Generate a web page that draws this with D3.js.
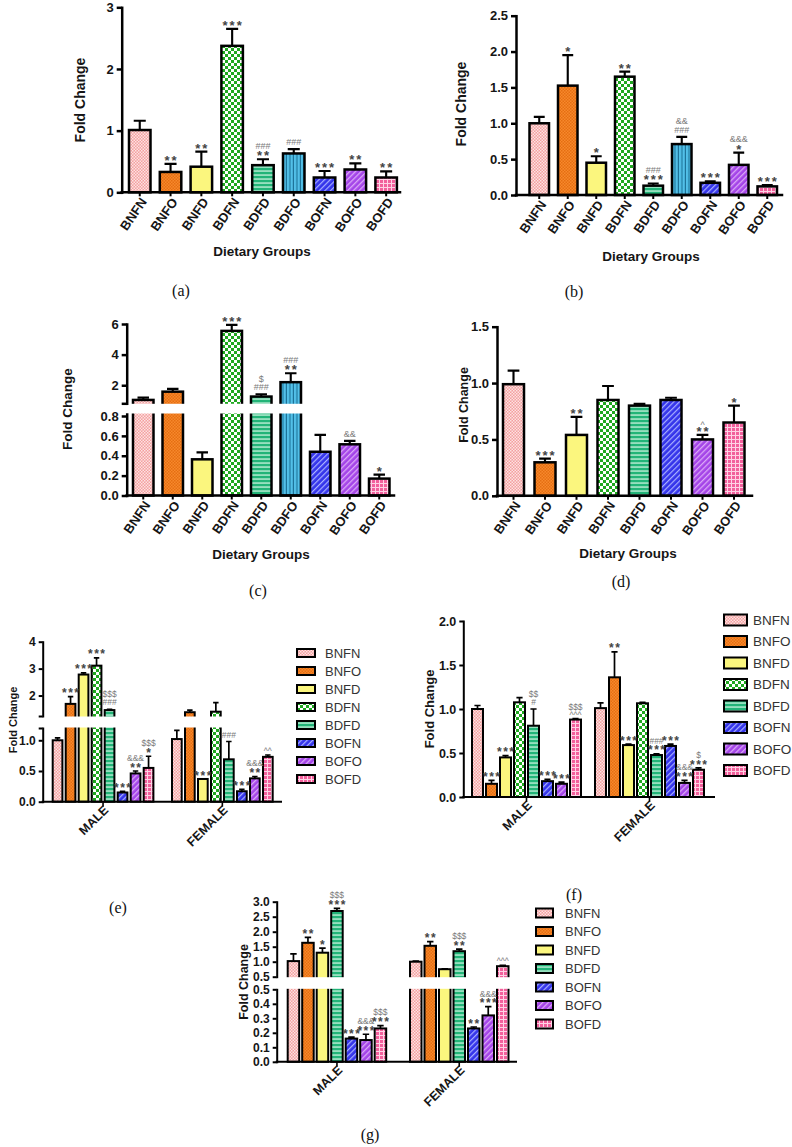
<!DOCTYPE html>
<html><head><meta charset="utf-8">
<script src="https://cdnjs.cloudflare.com/ajax/libs/d3/7.8.5/d3.min.js"></script>
<style>body{margin:0;background:#fff}svg{display:block}</style>
</head><body><svg id="c" width="792" height="1147"></svg>
<script>
// ---------------- DATA ----------------
const catsAC = ["BNFN","BNFO","BNFD","BDFN","BDFD","BDFO","BOFN","BOFO","BOFD"];
const catsD  = ["BNFN","BNFO","BNFD","BDFN","BDFD","BOFN","BOFO","BOFD"];
const seriesEF = ["BNFN","BNFO","BNFD","BDFN","BDFD","BOFN","BOFO","BOFD"];
const seriesG  = ["BNFN","BNFO","BNFD","BDFD","BOFN","BOFO","BOFD"];
const sexes = ["MALE","FEMALE"];

const aMean = [1.01,0.33,0.415,2.375,0.44,0.63,0.24,0.37,0.24];
const aSem  = [0.15,0.13,0.245,0.275,0.095,0.07,0.105,0.10,0.10];
const aSig  = ["","**","**","***","###|**","###","***","**","**"];

const bMean = [1.0,1.525,0.45,1.65,0.13,0.71,0.17,0.42,0.12];
const bSem  = [0.09,0.425,0.09,0.07,0.03,0.10,0.02,0.17,0.02];
const bSig  = ["","*","*","**","###|***","&&|###","***","&&&|*","***"];

const cMean = [1.04,1.58,0.364,5.55,1.26,2.2,0.44,0.515,0.17];
const cSem  = [0.15,0.18,0.07,0.39,0.15,0.58,0.17,0.035,0.04];
const cSig  = ["","","","***","$|###","###|**","","&&","*"];

const dMean = [0.99,0.297,0.54,0.85,0.80,0.85,0.50,0.65];
const dSem  = [0.12,0.033,0.16,0.124,0.015,0.02,0.04,0.15];
const dSig  = ["","***","**","","","","^|**","*"];

const eMale      = [1.0,1.69,2.78,3.11,1.46,0.15,0.46,0.55];
const eMaleSem   = [0.04,0.27,0.06,0.29,0.03,0.02,0.04,0.19];
const eMaleSig   = ["","***","***","***","$$$|###","***","&&&|**","$$$|*"];
const eFemale    = [1.02,1.38,0.37,1.40,0.69,0.17,0.38,0.73];
const eFemaleSem = [0.14,0.08,0.0,0.34,0.29,0.03,0.03,0.03];
const eFemaleSig = ["","","***","","###","***","&&&|**","^^"];

const fMale      = [1.0,0.15,0.45,1.076,0.81,0.18,0.15,0.88];
const fMaleSem   = [0.04,0.04,0.02,0.054,0.19,0.02,0.02,0.01];
const fMaleSig   = ["","***","***","","$$|#","***","***","$$$|^^^"];
const fFemale    = [1.01,1.36,0.59,1.065,0.477,0.58,0.16,0.31];
const fFemaleSem = [0.06,0.29,0.01,0.01,0.013,0.02,0.03,0.02];
const fFemaleSig = ["","**","***","","###|***","***","&&&|***","$|***"];

const gMale      = [1.02,1.63,1.30,2.69,0.16,0.15,0.23];
const gMaleSem   = [0.24,0.18,0.15,0.09,0.01,0.04,0.02];
const gMaleSig   = ["","**","*","$$$|***","***","&&&|***","$$$|***"];
const gFemale    = [1.0,1.53,0.75,1.35,0.23,0.32,0.85];
const gFemaleSem = [0.02,0.14,0.01,0.07,0.01,0.06,0.03];
const gFemaleSig = ["","**","","$$$|**","**","&&&|***","^^^"];

const ticksA = [0,1,2,3];
const ticksB = [0,0.5,1.0,1.5,2.0,2.5];
const ticksCLow = [0,0.2,0.4,0.6,0.8], ticksCHigh = [2,4,6];
const ticksD = [0,0.5,1.0,1.5];
const ticksELow = [0,0.5,1.0], ticksEHigh = [2,3,4];
const ticksF = [0,0.5,1.0,1.5,2.0];
const ticksGLow = [0,0.1,0.2,0.3,0.4,0.5], ticksGHigh = [0.5,1.0,1.5,2.0,2.5,3.0];

// ---------------- SETUP ----------------
const FONT = "'Liberation Sans', Arial, sans-serif";
const SERIF = "'Liberation Serif', 'Times New Roman', serif";
const svg = d3.select("#c");
const defs = svg.append("defs");
const f1 = d3.format(".1f"), fd = d3.format("d");

function mk(id, w, h, bg, extra, rot) {
  const p = defs.append("pattern").attr("id", "p" + id).attr("patternUnits", "userSpaceOnUse")
    .attr("width", w).attr("height", h);
  if (rot) p.attr("patternTransform", `rotate(${rot})`);
  p.append("rect").attr("width", w).attr("height", h).attr("fill", bg);
  extra(p);
}
mk("BNFN", 3, 3, "#f4a0a0", p => { p.append("rect").attr("width",1.5).attr("height",1.5).attr("fill","#fde2e2"); p.append("rect").attr("x",1.5).attr("y",1.5).attr("width",1.5).attr("height",1.5).attr("fill","#fde2e2"); });
mk("BNFO", 3, 3, "#f7892b", p => { p.append("rect").attr("width",1.5).attr("height",1.5).attr("fill","#e56e12"); p.append("rect").attr("x",1.5).attr("y",1.5).attr("width",1.5).attr("height",1.5).attr("fill","#e56e12"); });
mk("BNFD", 4, 4, "#fbf67e", p => {});
mk("BDFN", 6, 6, "#1fa81f", p => { p.append("rect").attr("width",3).attr("height",3).attr("fill","#ffffff"); p.append("rect").attr("x",3).attr("y",3).attr("width",3).attr("height",3).attr("fill","#ffffff"); });
mk("BDFD", 4, 4, "#22b478", p => { p.append("rect").attr("y",2.4).attr("width",4).attr("height",1.3).attr("fill","#c6f2dc"); });
mk("BDFO", 3.5, 4, "#52c0e8", p => { p.append("rect").attr("x",2.4).attr("width",1.1).attr("height",4).attr("fill","#1a6f95"); });
mk("BOFN", 4, 4, "#3434ea", p => { p.append("rect").attr("width",1.2).attr("height",4).attr("fill","#a9b0ff"); }, 45);
mk("BOFO", 4, 4, "#a444e8", p => { p.append("rect").attr("width",1.3).attr("height",4).attr("fill","#dba8f7"); }, 45);
mk("BOFD", 4, 4, "#f2609c", p => { p.append("rect").attr("x",3).attr("width",1).attr("height",4).attr("fill","#ffd2e5"); p.append("rect").attr("y",3).attr("width",4).attr("height",1).attr("fill","#ffd2e5"); });

function makeY(spec) {
  if (spec.lower) {
    const lo = d3.scaleLinear().domain(spec.lower.domain).range(spec.lower.range);
    const hi = d3.scaleLinear().domain(spec.upper.domain).range(spec.upper.range);
    const brk = spec.lower.domain[1];
    return { f: v => v <= brk ? lo(v) : hi(Math.max(v, spec.upper.domain[0])),
      segs: [Object.assign({ s: lo }, spec.lower), Object.assign({ s: hi }, spec.upper)],
      gap: [spec.upper.range[0], spec.lower.range[1]] };
  }
  const s = d3.scaleLinear().domain(spec.domain).range(spec.range);
  return { f: v => s(v), segs: [Object.assign({ s }, spec)], gap: null };
}

function bandFor(cats, firstLeft, step, bw) {
  const pi = 1 - bw / step;
  const r0 = firstLeft - step * pi / 2;
  return d3.scaleBand().domain(cats).range([r0, r0 + cats.length * step]).paddingInner(pi).paddingOuter(pi / 2);
}

function sigText(g, cx, errY, sig, P) {
  if (!sig) return;
  const lines = sig.split("|").reverse();
  let cur = errY - 4;
  lines.forEach(t => {
    const ast = t[0] === "*";
    const caret = t[0] === "^";
    const fs = ast ? P.afs : P.sfs;
    let base = ast ? cur + 0.38 * fs : (caret ? cur + 0.35 * fs : cur);
    g.append("text").attr("x", cx + (ast ? P.als / 2 : 0)).attr("y", base).attr("text-anchor", "middle")
      .attr("font-family", FONT).attr("font-weight", ast ? "bold" : "normal").attr("font-size", fs)
      .attr("letter-spacing", ast ? P.als : 0).attr("fill", ast ? "#444" : "#7a7a7a").text(t);
    cur = base - 0.72 * fs - 2;
  });
}

function drawBars(g, items, Y, P) {
  const y0 = Y.f(0);
  g.selectAll(null).data(items).join("rect")
    .attr("x", d => d.x).attr("y", d => Y.f(d.v)).attr("width", d => d.w).attr("height", d => y0 - Y.f(d.v))
    .attr("fill", d => `url(#p${d.s})`).attr("stroke", "#000").attr("stroke-width", P.sw);
  g.selectAll(null).data(items.filter(d => d.e > 0)).join("path")
    .attr("d", d => { const cx = d.x + d.w / 2, cw = d.w * 0.28;
      return `M${cx},${Y.f(d.v)}V${Y.f(d.v + d.e)}M${cx - cw},${Y.f(d.v + d.e)}H${cx + cw}`; })
    .attr("stroke", "#000").attr("stroke-width", P.sw * 0.85).attr("fill", "none");
}

function drawAxes(g, Y, P) {
  if (Y.gap) {
    g.append("rect").attr("x", P.axisX + 2).attr("y", Y.gap[0] + 0.5).attr("width", P.axisEnd - P.axisX + 6)
      .attr("height", Y.gap[1] - Y.gap[0] - 1).attr("fill", "#fff");
  }
  Y.segs.forEach(seg => {
    const ends = seg.ends || [];
    const ax = d3.axisLeft(seg.s).tickValues(seg.ticks.concat(ends))
      .tickFormat(v => ends.includes(v) ? "" : seg.fmt(v)).tickSize(P.tick).tickSizeOuter(0).tickPadding(3);
    const a = g.append("g").attr("transform", `translate(${P.axisX},0)`).call(ax);
    a.attr("font-family", null).attr("font-size", null);
    a.select(".domain").attr("stroke", "#000").attr("stroke-width", P.sw).attr("stroke-linecap", "square");
    a.selectAll(".tick line").attr("stroke", "#000").attr("stroke-width", P.sw);
    a.selectAll(".tick text").attr("font-family", FONT).attr("font-weight", "bold").attr("font-size", P.tfs).attr("fill", "#151515");
  });
  const y0 = Y.f(0);
  g.append("line").attr("x1", P.axisX).attr("x2", P.axisEnd).attr("y1", y0).attr("y2", y0)
    .attr("stroke", "#000").attr("stroke-width", P.sw).attr("stroke-linecap", "square");
  g.append("text").attr("transform", `translate(${P.ylab[0]},${P.ylab[1]}) rotate(-90)`).attr("text-anchor", "middle")
    .attr("font-family", FONT).attr("font-weight", "bold").attr("font-size", P.yfs).attr("fill", "#151515").text("Fold Change");
  g.append("text").attr("x", P.cap[0]).attr("y", P.cap[1]).attr("text-anchor", "middle")
    .attr("font-family", SERIF).attr("font-size", 16).attr("fill", "#111").text(P.cap[2]);
}

function xLabels(g, list, y0, P) {
  list.forEach(([cx, t]) => {
    g.append("line").attr("x1", cx).attr("x2", cx).attr("y1", y0).attr("y2", y0 + P.xtick).attr("stroke", "#000").attr("stroke-width", P.sw * 0.8);
    g.append("text").attr("transform", `translate(${cx + P.xl[0]},${y0 + P.xl[1]}) rotate(${P.rot})`)
      .attr("text-anchor", "end").attr("dy", "0.35em").attr("font-family", FONT).attr("font-weight", "bold")
      .attr("font-size", P.xfs).attr("fill", "#151515").text(t);
  });
}

function simplePanel(cats, mean, sem, sig, P) {
  const g = svg.append("g");
  const x = bandFor(cats, P.firstLeft, P.step, P.bw);
  const Y = makeY(P.y);
  const items = cats.map((c, i) => ({ s: c, x: x(c), w: x.bandwidth(), v: mean[i], e: sem[i], sig: sig[i] }));
  drawBars(g, items, Y, P);
  drawAxes(g, Y, P);
  items.forEach(d => sigText(g, d.x + d.w / 2, Y.f(d.v + d.e), d.sig, P));
  xLabels(g, cats.map(c => [x(c) + x.bandwidth() / 2, c]), Y.f(0), P);
  g.append("text").attr("x", P.xt[0]).attr("y", P.xt[1]).attr("text-anchor", "middle").attr("font-family", FONT)
    .attr("font-weight", "bold").attr("font-size", 13.5).attr("fill", "#151515").text("Dietary Groups");
}

function groupedPanel(series, data, P) {
  const g = svg.append("g");
  const half = P.innerStep * (1 - P.bw / P.innerStep) / 2;
  const inner = bandFor(series, half, P.innerStep, P.bw);
  const outer = d3.scaleBand().domain(sexes).range([P.firstLeft - half, P.firstLeft - half + sexes.length * P.groupStep]);
  const Y = makeY(P.y);
  const items = [];
  sexes.forEach((sx, gi) => series.forEach((s, i) => items.push({ s, x: outer(sx) + inner(s), w: inner.bandwidth(),
    v: data[gi].mean[i], e: data[gi].sem[i], sig: data[gi].sig[i] })));
  drawBars(g, items, Y, P);
  drawAxes(g, Y, P);
  items.forEach(d => sigText(g, d.x + d.w / 2, Y.f(d.v + d.e), d.sig, P));
  xLabels(g, sexes.map(sx => [outer(sx) + series.length * P.innerStep / 2, sx]), Y.f(0), P);
  // legend
  series.forEach((s, i) => {
    const yy = P.leg.y + i * P.leg.dy;
    g.append("rect").attr("x", P.leg.x).attr("y", yy - P.leg.h / 2).attr("width", P.leg.w).attr("height", P.leg.h)
      .attr("fill", `url(#p${s})`).attr("stroke", "#000").attr("stroke-width", 2);
    g.append("text").attr("x", P.leg.tx).attr("y", yy).attr("dy", "0.36em").attr("font-family", FONT)
      .attr("font-size", P.leg.fs).attr("fill", "#333").text(s);
  });
}

const topStyle = { sw: 2.5, tick: 5, tfs: 13, yfs: 14, xfs: 13, rot: -55, xl: [4, 7], xtick: 4, afs: 13, als: 2, sfs: 9 };
const lowStyle = { sw: 2, tick: 4, tfs: 12, yfs: 12.5, xfs: 12.5, rot: -45, xl: [3, 6], xtick: 5, afs: 12, als: 1.5, sfs: 8.5 };

// (a)
simplePanel(catsAC, aMean, aSem, aSig, Object.assign({}, topStyle, {
  axisX: 121.7, axisEnd: 400, firstLeft: 129, step: 30.8, bw: 21.5,
  y: { domain: [0, 3], range: [192.3, 7.3], ticks: ticksA, fmt: fd },
  ylab: [85, 100], xt: [262, 256], cap: [181, 296, "(a)"] }));
// (b)
simplePanel(catsAC, bMean, bSem, bSig, Object.assign({}, topStyle, {
  axisX: 516, axisEnd: 782, firstLeft: 529.5, step: 28.5, bw: 19.5,
  y: { domain: [0, 2.5], range: [195, 15.7], ticks: ticksB, fmt: f1 },
  ylab: [466, 104], xt: [651, 261], cap: [574, 297, "(b)"] }));
// (c)
simplePanel(catsAC, cMean, cSem, cSig, Object.assign({}, topStyle, {
  axisX: 126.7, axisEnd: 394, firstLeft: 133, step: 29.5, bw: 20.5,
  y: { lower: { domain: [0, 0.82], range: [495.5, 414], ticks: ticksCLow, fmt: f1 },
       upper: { domain: [0.82, 6], range: [403.3, 324], ticks: ticksCHigh, fmt: fd, ends: [0.82] } },
  ylab: [72, 409], yfs: 13.5, xt: [261, 559], cap: [258, 596, "(c)"] }));
// (d)
simplePanel(catsD, dMean, dSem, dSig, Object.assign({}, topStyle, {
  axisX: 497, axisEnd: 752, firstLeft: 503, step: 31.5, bw: 21,
  y: { domain: [0, 1.5], range: [495.8, 326.7], ticks: ticksD, fmt: f1 },
  ylab: [468, 405], yfs: 12.5, xt: [628, 558], cap: [621, 587, "(d)"] }));
// (e)
groupedPanel(seriesEF, [{ mean: eMale, sem: eMaleSem, sig: eMaleSig }, { mean: eFemale, sem: eFemaleSem, sig: eFemaleSig }],
  Object.assign({}, lowStyle, {
  axisX: 42.7, axisEnd: 281, firstLeft: 52.7, groupStep: 119.3, innerStep: 13, bw: 9.7,
  y: { lower: { domain: [0, 1.2], range: [801.7, 728], ticks: ticksELow, fmt: f1, ends: [1.2] },
       upper: { domain: [1.24, 4], range: [716, 641.7], ticks: ticksEHigh, fmt: fd, ends: [1.24] } },
  ylab: [17, 720], yfs: 11, cap: [118, 913, "(e)"],
  leg: { x: 297, y: 653, dy: 18, w: 18, h: 8, tx: 325, fs: 13 } }));
// (f)
groupedPanel(seriesEF, [{ mean: fMale, sem: fMaleSem, sig: fMaleSig }, { mean: fFemale, sem: fFemaleSem, sig: fFemaleSig }],
  Object.assign({}, lowStyle, {
  axisX: 463.3, axisEnd: 714, firstLeft: 472, groupStep: 123, innerStep: 14, bw: 11,
  y: { domain: [0, 2], range: [797, 621], ticks: ticksF, fmt: f1 },
  ylab: [434, 709], yfs: 13, tfs: 12.5, cap: [574, 900, "(f)"],
  leg: { x: 724, y: 620, dy: 21.5, w: 23, h: 11, tx: 753, fs: 13.5 } }));
// (g)
groupedPanel(seriesG, [{ mean: gMale, sem: gMaleSem, sig: gMaleSig }, { mean: gFemale, sem: gFemaleSem, sig: gFemaleSig }],
  Object.assign({}, lowStyle, {
  axisX: 276.7, axisEnd: 516, firstLeft: 287.7, groupStep: 122.3, innerStep: 14.5, bw: 11.5,
  y: { lower: { domain: [0, 0.5], range: [1061.8, 989.3], ticks: ticksGLow, fmt: f1 },
       upper: { domain: [0.5, 3.0], range: [976.7, 901.7], ticks: ticksGHigh, fmt: f1 } },
  ylab: [248, 982], yfs: 12.5, cap: [370, 1140, "(g)"],
  leg: { x: 536, y: 913, dy: 18.5, w: 17, h: 9, tx: 565, fs: 13 } }));
</script></body></html>
